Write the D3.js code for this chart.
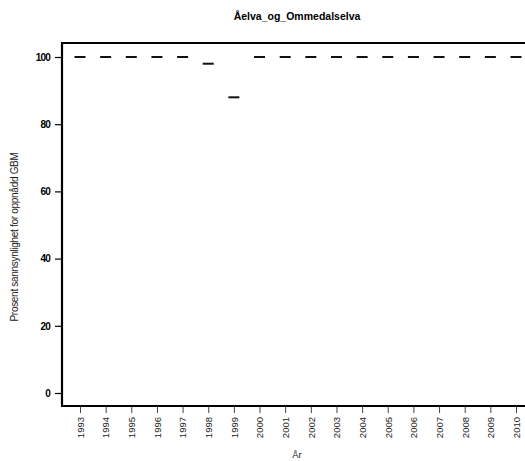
<!DOCTYPE html>
<html>
<head>
<meta charset="utf-8">
<script src="https://cdn.jsdelivr.net/npm/d3@7"></script>
<style>
  body { margin: 0; background: #fff; }
  svg { display: block; }
</style>
</head>
<body>
<svg id="chart" width="525" height="461"></svg>
<script>
// Yearly probability (%) of reaching good ecological status
const years = [1993, 1994, 1995, 1996, 1997, 1998, 1999, 2000, 2001, 2002,
               2003, 2004, 2005, 2006, 2007, 2008, 2009, 2010];
const values = [100, 100, 100, 100, 100, 98, 88, 100, 100, 100,
                100, 100, 100, 100, 100, 100, 100, 100];
const yTicks = [0, 20, 40, 60, 80, 100];

const title = "Åelva_og_Ommedalselva";
const xTitle = "År";
const yTitle = "Prosent sannsynlighet for oppnådd GBM";

const svg = d3.select("#chart");

const box = { left: 62, top: 43, right: 532, bottom: 406 };

const x = d3.scaleLinear().domain([1993, 2010]).range([80, 516]);
const y = d3.scaleLinear().domain([0, 100]).range([393, 57]);

// Plot frame (left, top, bottom)
svg.append("path")
  .attr("d", `M${box.right},${box.top}H${box.left}V${box.bottom}H${box.right}`)
  .attr("fill", "none")
  .attr("stroke", "#000")
  .attr("stroke-width", 2.2);

// Y axis
const yAxis = svg.append("g")
  .attr("transform", `translate(${box.left - 7},0)`)
  .call(d3.axisLeft(y).tickValues(yTicks).tickSize(0).tickPadding(5).tickFormat(d3.format("d")));
yAxis.select(".domain").remove();
yAxis.selectAll(".tick").append("line")
  .attr("x1", 0).attr("x2", 7)
  .attr("stroke", "#000").attr("stroke-width", 1.2);
yAxis.selectAll("text")
  .attr("font-family", "Liberation Sans, Arial, sans-serif")
  .attr("font-size", 10)
  .attr("font-weight", "bold")
  .attr("letter-spacing", -0.8)
  .attr("fill", "#000");

// X axis
const xAxis = svg.append("g")
  .attr("transform", `translate(0,${box.bottom})`)
  .call(d3.axisBottom(x).tickValues(years).tickSize(0).tickFormat(d3.format("d")));
xAxis.select(".domain").remove();
xAxis.selectAll(".tick line").remove();
xAxis.selectAll(".tick").append("line")
  .attr("y1", 1).attr("y2", 7)
  .attr("stroke", "#444").attr("stroke-width", 1);
xAxis.selectAll("text")
  .attr("font-family", "Liberation Sans, Arial, sans-serif")
  .attr("font-size", 9.5)
  .attr("fill", "#222")
  .attr("text-anchor", "end")
  .attr("dy", "0.35em")
  .attr("transform", "translate(0,11) rotate(-90)")
  .attr("x", 0).attr("y", 0);

// Value marks: short horizontal dashes
svg.append("g")
  .selectAll("line")
  .data(years.map((yr, i) => ({ yr, v: values[i] })))
  .join("line")
  .attr("x1", d => x(d.yr) - 5.5)
  .attr("x2", d => x(d.yr) + 5.5)
  .attr("y1", d => y(d.v))
  .attr("y2", d => y(d.v))
  .attr("stroke", "#111")
  .attr("stroke-width", 2);

// Title
svg.append("text")
  .attr("x", 297).attr("y", 20)
  .attr("text-anchor", "middle")
  .attr("font-family", "Liberation Sans, Arial, sans-serif")
  .attr("font-size", 10.5)
  .attr("font-weight", "bold")
  .text(title);

// Axis titles
svg.append("text")
  .attr("x", 297).attr("y", 458)
  .attr("text-anchor", "middle")
  .attr("font-family", "Liberation Sans, Arial, sans-serif")
  .attr("font-size", 9.5)
  .attr("fill", "#222")
  .text(xTitle);

svg.append("text")
  .attr("transform", "translate(18,237) rotate(-90)")
  .attr("text-anchor", "middle")
  .attr("font-family", "Liberation Sans, Arial, sans-serif")
  .attr("font-size", 10)
  .attr("fill", "#222")
  .attr("letter-spacing", -0.3)
  .text(yTitle);
</script>
</body>
</html>
